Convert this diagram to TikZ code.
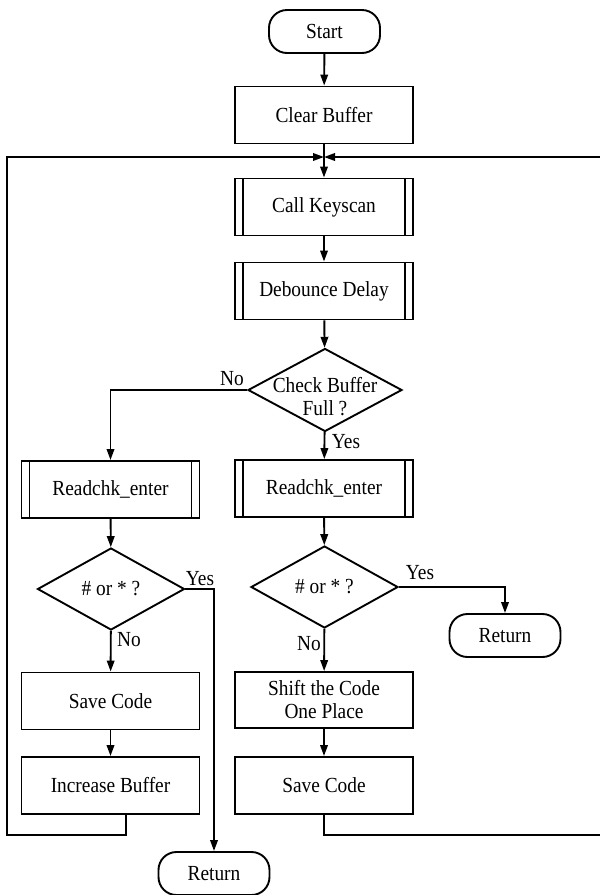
\documentclass[tikz,border=0pt]{standalone}
\usepackage{fontspec}
\setmainfont[FakeStretch=0.9]{Liberation Serif}
\usetikzlibrary{arrows.meta,shapes.geometric}

\tikzset{
  lw/.style={line width=1.9pt},
  txt/.style={font=\fontsize{21.5}{24}\selectfont, align=center},
  base/.style={draw, lw, txt, inner sep=0pt},
  proc/.style={base, rectangle, minimum width=178pt, minimum height=57pt},
  subproc/.style={proc, path picture={
      \draw[lw] ([xshift=8pt]path picture bounding box.north west) -- ([xshift=8pt]path picture bounding box.south west);
      \draw[lw] ([xshift=-8pt]path picture bounding box.north east) -- ([xshift=-8pt]path picture bounding box.south east);}},
  term/.style={base, rectangle, rounded corners=18pt, minimum width=111pt, minimum height=43pt},
  dec/.style={base, diamond, minimum width=147pt, minimum height=82pt},
  flow/.style={lw, -{Triangle[length=11pt,width=7.5pt]}},
  wire/.style={lw},
  lab/.style={txt, inner sep=0pt}
}

\begin{document}
\begin{tikzpicture}[x=1pt,y=-1pt]
  \useasboundingbox (0,0) rectangle (600,895);

  % main column
  \node[term]    (start) at (324.5,31.5) {Start};
  \node[proc]    (clear) at (324,115)   {Clear Buffer};
  \node[subproc] (key)   at (324,207)   {Call Keyscan};
  \node[subproc] (deb)   at (324,291)   {Debounce Delay};
  \node[dec, minimum width=154pt, minimum height=83pt] (chk) at (325,390) {};
  \node[lab] (chktxt) at (325,397) {Check Buffer\\[-1pt]Full ?};

  % left branch
  \node[subproc] (lrd)   at (110.5,489.5) {Readchk\_enter};
  \node[dec]     (ld)    at (111,589)     {\# or * ?};
  \node[proc]    (lsave) at (110.5,701)   {Save Code};
  \node[proc]    (lincr) at (110.5,785.5) {Increase Buffer};
  \node[term]    (bret)  at (214,873.5)   {Return};

  % right branch
  \node[subproc] (rrd)   at (324,488.5)   {Readchk\_enter};
  \node[dec]     (rd)    at (324.5,587)   {\# or * ?};
  \node[term]    (rret)  at (505,635.5)   {Return};
  \node[proc, minimum height=56pt] (shift) at (324,700) {Shift the Code\\[-1pt]One Place};
  \node[proc]    (rsave) at (324,785.5)   {Save Code};

  % loop-back points
  \coordinate (jn) at (324,157);
  \coordinate (lb) at (126,835);
  \coordinate (ll) at (7,835);
  \coordinate (lt) at (7,157);
  \coordinate (rb) at (601,835);
  \coordinate (rt) at (601,157);

  % connectors
  \draw[flow] (start) -- (clear);
  \draw[flow] (clear) -- (key);
  \draw[flow] (key) -- (deb);
  \draw[flow] (deb) -- (chk);
  \draw[flow] (chk.west) -| (lrd.north);
  \draw[flow] (chk) -- (rrd);
  \draw[flow] (lrd) -- (ld);
  \draw[flow] (rrd) -- (rd);
  \draw[flow] (ld) -- (lsave);
  \draw[flow] (lsave) -- (lincr);
  \draw[flow] (ld.east) -| (bret.north);
  \draw[flow] (rd) -- (shift);
  \draw[flow] (shift) -- (rsave);
  \draw[flow] (rd.east) -| (rret.north);

  % loops back to the top
  \draw[flow] (lincr.south -| lb) -- (lb) -- (ll) -- (lt) -- (jn);
  \draw[wire] (rsave.south) |- (rb);
  \draw[flow] (rt) -- (jn);

  % branch labels
  \node[lab] (no1)  at (232,379) {No};
  \node[lab] (yes1) at (346,442) {Yes};
  \node[lab] (yes2) at (200,579) {Yes};
  \node[lab] (no2)  at (129,640) {No};
  \node[lab] (yes3) at (420,573) {Yes};
  \node[lab] (no3)  at (309,644) {No};
\end{tikzpicture}
\end{document}
